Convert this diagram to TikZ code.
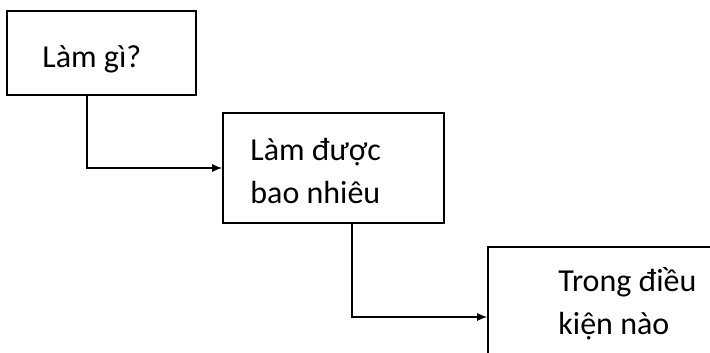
\documentclass[tikz,border=0pt]{standalone}
\usepackage{fontspec}
\setmainfont{Carlito}
\usepackage{tikz}
\usetikzlibrary{arrows.meta}

\begin{document}
\begin{tikzpicture}[x=1pt, y=-1pt, >={Latex[length=10pt,width=8pt]}, box/.style = {shape=rectangle, draw, line width=1.6pt, inner sep=0pt}, txt/.style = {align=left, inner sep=0pt, anchor=base west, font=\fontsize{32}{43}\selectfont}, link/.style = {->, line width=1.4pt}]
      \useasboundingbox (0,0) rectangle (710,353);
      \clip (0,0) rectangle (710,353);
      \node[box, minimum width=189pt, minimum height=84pt] (lamgi) at (101.5,53) {};
      \node[box, minimum width=221pt, minimum height=110pt] (lamduoc) at (333.5,168) {};
      \node[box, minimum width=260pt, minimum height=140pt] (dieukien) at (618,317) {};
      \node[txt] (lamgitxt) at ([shift={(36,57)}]lamgi.north west) {Làm gì?};
      \node[txt] (lamduoctxt) at ([shift={(28,91)}]lamduoc.north west) {Làm được\\bao nhiêu};
      \node[txt] (dieukientxt) at ([shift={(71,88)}]dieukien.north west) {Trong điều\\kiện nào};
      \draw[link] ([xshift=-14.5pt]lamgi.south) |- (lamduoc.west);
      \draw[link] ([xshift=18.5pt]lamduoc.south) |- (dieukien.west);
    \end{tikzpicture}
\end{document}
